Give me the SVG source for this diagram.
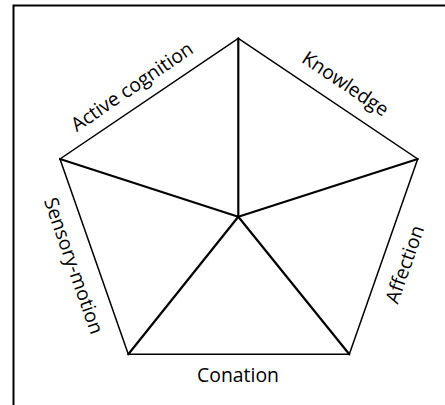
<svg xmlns="http://www.w3.org/2000/svg" width="445" height="405" viewBox="0 0 445 405">
  <style>
    .frame { fill: #ffffff; stroke: #000000; stroke-width: 2; }
    .edge { fill: none; stroke: #000000; stroke-width: 1.5; stroke-linejoin: miter; }
    .spoke { fill: none; stroke: #000000; stroke-width: 2.2; stroke-linecap: round; }
    .lbl { font-family: "Open Sans", "Liberation Sans", sans-serif; font-size: 19.4px; fill: #000000; text-anchor: middle; dominant-baseline: central; }
  </style>
  <rect x="0" y="0" width="445" height="405" fill="#ffffff"/>
  <rect class="frame" x="13.5" y="5.5" width="440" height="410"/>
  <g id="pentagon">
    <polygon class="edge" points="238.3,38.3 417.7,159 349.3,354.3 128.3,354.3 60,159"/>
  </g>
  <g id="connectors">
    <line class="spoke" x1="238.3" y1="216.7" x2="238.3" y2="38.3"/>
    <line class="spoke" x1="238.3" y1="216.7" x2="417.7" y2="159"/>
    <line class="spoke" x1="238.3" y1="216.7" x2="349.3" y2="354.3"/>
    <line class="spoke" x1="238.3" y1="216.7" x2="128.3" y2="354.3"/>
    <line class="spoke" x1="238.3" y1="216.7" x2="60" y2="159"/>
  </g>
  <g id="label-active-cognition">
    <text class="lbl" transform="translate(131.5,86) rotate(-34.2)">Active cognition</text>
  </g>
  <g id="label-knowledge">
    <text class="lbl" transform="translate(346,83) rotate(33.9)">Knowledge</text>
  </g>
  <g id="label-affection">
    <text class="lbl" transform="translate(404,264) rotate(-70.7)">Affection</text>
  </g>
  <g id="label-conation">
    <text class="lbl" x="238" y="374">Conation</text>
  </g>
  <g id="label-sensory-motion">
    <text class="lbl" transform="translate(74.5,265.5) rotate(70.7)">Sensory-motion</text>
  </g>
</svg>
